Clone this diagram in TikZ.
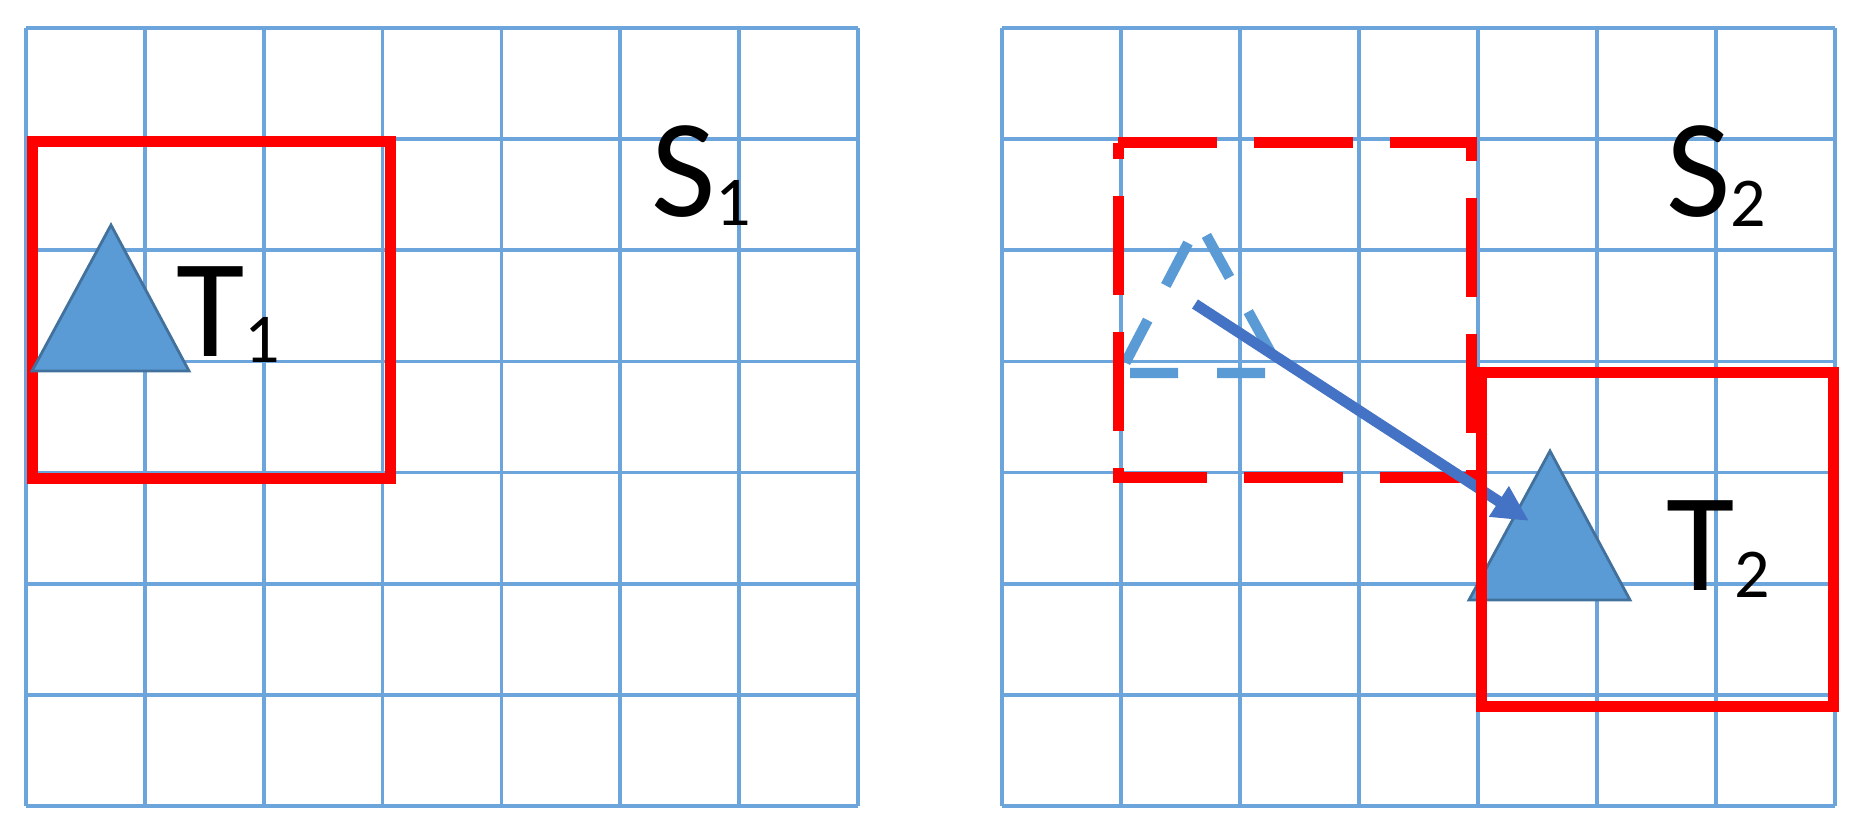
\documentclass[tikz,border=0pt]{standalone}
\usepackage{fontspec}
\usetikzlibrary{arrows.meta}
\newfontfamily\lblfont{Carlito}
\definecolor{gridblue}{RGB}{108,164,220}
\definecolor{tribluefill}{RGB}{91,155,213}
\definecolor{triblueline}{RGB}{65,113,156}
\definecolor{arrowblue}{RGB}{68,114,196}
\definecolor{boxred}{RGB}{255,0,0}
\newcommand{\lsub}[2]{\raisebox{-#1}{\fontsize{35pt}{35pt}\selectfont #2}}
\tikzset{
  gridline/.style={draw=gridblue, line width=1.8pt},
  solidbox/.style={draw=boxred, line width=5.5pt, line join=miter},
  dashbox/.style={draw=boxred, line width=5.5pt, line join=miter, dash pattern=on 49.5pt off 18.5pt},
  filltri/.style={fill=tribluefill, draw=triblueline, line width=1.4pt, line join=miter},
  dashtri/.style={draw=tribluefill, line width=5.2pt, dash pattern=on 24pt off 19.5pt, dash phase=38.5pt},
  movearrow/.style={draw=arrowblue, line width=5.4pt, -{Triangle[length=18pt,width=17pt]}},
  lbl/.style={inner sep=0pt, anchor=base west, font=\lblfont\fontsize{70pt}{70pt}\selectfont}
}
\begin{document}
\begin{tikzpicture}[x=0.5pt, y=-0.5pt]
\useasboundingbox (0,0) rectangle (1864,839);
% grids
\foreach \i in {0,...,7} {
  \draw[gridline] ({26+\i*118.857},28) -- ({26+\i*118.857},806);
  \draw[gridline] (26,{28+\i*111.143}) -- (858,{28+\i*111.143});
  \draw[gridline] ({1002+\i*119},28) -- ({1002+\i*119},806);
  \draw[gridline] (1002,{28+\i*111.143}) -- (1835,{28+\i*111.143});
}
% left box and triangle
\coordinate (b1a) at (32,142);
\coordinate (b1b) at (390,142);
\coordinate (b1c) at (390,479);
\coordinate (b1d) at (32,479);
\draw[solidbox] (b1a) -- (b1b) -- (b1c) -- (b1d) -- cycle;
\coordinate (t1a) at (111,225);
\coordinate (t1b) at (189,371);
\coordinate (t1c) at (32,371);
\draw[filltri] (t1a) -- (t1b) -- (t1c) -- cycle;
% right: old position (dashed)
\coordinate (d1) at (1120,373);
\coordinate (d2) at (1282,373);
\coordinate (d3) at (1199,222);
\draw[dashtri] (d1) -- (d2) -- (d3) -- cycle;
\coordinate (ba) at (1118,143);
\coordinate (bb) at (1471,143);
\coordinate (bc) at (1471,478);
\coordinate (bd) at (1118,478);
\draw[dashbox] (ba) -- (bb) -- (bc) -- (bd) -- cycle;
% new triangle
\coordinate (t2a) at (1550,451);
\coordinate (t2b) at (1630,600);
\coordinate (t2c) at (1469,600);
\draw[filltri] (t2a) -- (t2b) -- (t2c) -- cycle;
% arrow
\coordinate (arrS) at (1195,304);
\coordinate (arrE) at (1529,521);
\draw[movearrow] (arrS) -- (arrE);
% new box
\coordinate (b2a) at (1481,373);
\coordinate (b2b) at (1833,373);
\coordinate (b2c) at (1833,706);
\coordinate (b2d) at (1481,706);
\draw[solidbox] (b2a) -- (b2b) -- (b2c) -- (b2d) -- cycle;
% labels
\node[lbl] (labT1) at (176,357) {T\lsub{3pt}{1}};
\node[lbl] (labS1) at (651,217) {S\lsub{4.5pt}{1}};
\node[lbl] (labS2) at (1666,217) {S\lsub{5pt}{2}};
\node[lbl] (labT2) at (1666,590) {T\lsub{3.5pt}{2}};
\end{tikzpicture}
\end{document}
